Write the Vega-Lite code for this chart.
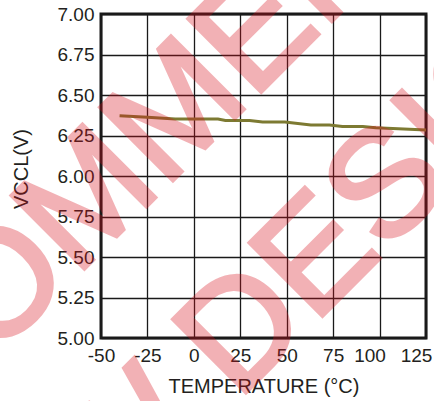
{
  "$schema": "https://vega.github.io/schema/vega-lite/v6.json",
  "width": 325,
  "height": 324,
  "autosize": {"type": "none"},
  "padding": {"left": 101, "top": 14, "right": 8, "bottom": 63},
  "background": "white",
  "config": {
    "view": {"stroke": "#1a1a1a", "strokeWidth": 3},
    "font": "Liberation Sans",
    "axis": {
      "domain": false,
      "ticks": false,
      "tickSize": 0,
      "grid": true,
      "gridColor": "#1a1a1a",
      "gridWidth": 1.3,
      "gridOpacity": 1,
      "labelOverlap": false,
      "labelFlush": false,
      "labelFont": "Liberation Sans",
      "labelFontSize": 19,
      "labelColor": "#231f20",
      "titleFont": "Liberation Sans",
      "titleFontSize": 20,
      "titleFontWeight": "normal",
      "titleColor": "#231f20"
    }
  },
  "layer": [
    {
      "data": {
        "values": [
          {"temp": -40, "vccl": 6.372},
          {"temp": -25, "vccl": 6.362},
          {"temp": -10, "vccl": 6.352},
          {"temp": 0, "vccl": 6.352},
          {"temp": 13, "vccl": 6.352},
          {"temp": 17, "vccl": 6.343},
          {"temp": 30, "vccl": 6.343},
          {"temp": 37, "vccl": 6.333},
          {"temp": 49, "vccl": 6.333},
          {"temp": 63, "vccl": 6.315},
          {"temp": 73, "vccl": 6.315},
          {"temp": 80, "vccl": 6.306},
          {"temp": 91, "vccl": 6.306},
          {"temp": 98, "vccl": 6.298},
          {"temp": 110, "vccl": 6.292},
          {"temp": 125, "vccl": 6.284}
        ]
      },
      "mark": {"type": "line", "color": "#7d7a32", "strokeWidth": 3},
      "encoding": {
        "x": {
          "field": "temp",
          "type": "quantitative",
          "scale": {"domain": [-50, 125], "nice": false, "zero": false},
          "axis": {
            "values": [-50, -25, 0, 25, 50, 75, 100, 125],
            "labelExpr": "replace(datum.label, '\u2212', '-')",
            "title": "TEMPERATURE (°C)",
            "labelPadding": 8,
            "titlePadding": 11,
            "labelOffset": {"condition": {"test": "datum.value >= 100", "value": -10}, "value": 0}
          }
        },
        "y": {
          "field": "vccl",
          "type": "quantitative",
          "scale": {"domain": [5, 7], "nice": false, "zero": false},
          "axis": {
            "values": [5, 5.25, 5.5, 5.75, 6, 6.25, 6.5, 6.75, 7],
            "format": ".2f",
            "title": "VCCL(V)",
            "labelPadding": 7,
            "titlePadding": 26,
            "titleY": 154.5
          }
        }
      }
    },
    {
      "data": {"values": [{"label": "NOT RECOMMENDED"}]},
      "mark": {"type": "text", "angle": 315, "fontSize": 150, "font": "Liberation Sans", "align": "center", "baseline": "alphabetic", "color": "#d8101c", "stroke": "#d8101c", "strokeWidth": 4, "opacity": 0.32},
      "encoding": {
        "text": {"field": "label"},
        "x": {"datum": -66.2, "type": "quantitative"},
        "y": {"datum": 5.344, "type": "quantitative"}
      }
    },
    {
      "data": {"values": [{"label": "FOR NEW DESIGNS"}]},
      "mark": {"type": "text", "angle": 315, "fontSize": 150, "font": "Liberation Sans", "align": "center", "baseline": "alphabetic", "color": "#d8101c", "stroke": "#d8101c", "strokeWidth": 4, "opacity": 0.32},
      "encoding": {
        "text": {"field": "label"},
        "x": {"datum": 9.1, "type": "quantitative"},
        "y": {"datum": 4.448, "type": "quantitative"}
      }
    }
  ]
}
